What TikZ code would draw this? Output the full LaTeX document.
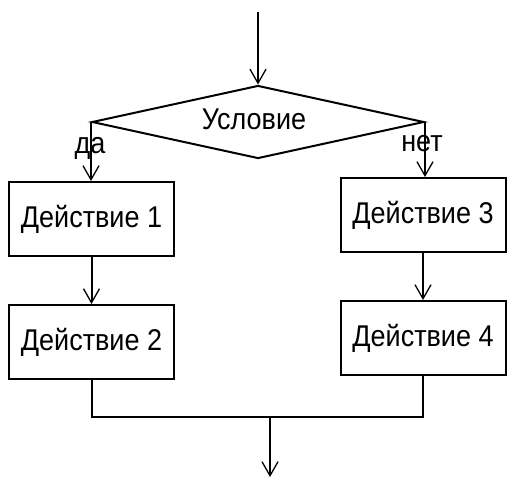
\documentclass[tikz,border=0pt]{standalone}
\usepackage{fontspec}
\setmainfont{Liberation Sans}[FakeStretch=0.9]
\usetikzlibrary{shapes.geometric,arrows.meta}
\tikzset{
    act/.style={draw, line width=2pt, minimum width=165pt, minimum height=74pt, inner sep=0pt},
    cond/.style={draw, diamond, aspect=4.5, line width=2pt, minimum width=332pt, minimum height=73pt, inner sep=0pt},
    arr/.style={line width=2pt, -{Straight Barb[length=14pt,width=16pt,line width=1.3pt]}},
    lnk/.style={line width=2pt}
}
\begin{document}
\begin{tikzpicture}[x=1pt,y=-1pt,font=\fontsize{30}{32}\selectfont]
    \useasboundingbox (0,0) rectangle (507,477);

    \coordinate (start) at (258,12);
    \coordinate (join)  at (270,417);
    \coordinate (stop)  at (270,477);

    \node[cond] (cnd)  at (258,122) {};
    \node (cndtxt) at (254,119) {Условие};

    \node[act]  (act1) at (91.5,219) {Действие 1};
    \node[act]  (act2) at (91.5,342) {Действие 2};
    \node[act]  (act3) at (423,215)  {Действие 3};
    \node[act]  (act4) at (423,338)  {Действие 4};

    % Entry
    \draw[arr] (start) -- (cnd.north);

    % Branches
    \draw[arr] (cnd.west) -- node[pos=0.45,xshift=-1pt]{да}  (cnd.west |- act1.north);
    \draw[arr] (cnd.east) -- node[pos=0.4,xshift=-3pt]{нет} (cnd.east |- act3.north);

    \draw[arr] (act1) -- (act2);
    \draw[arr] (act3) -- (act4);

    % Merge
    \draw[lnk] (act2.south) |- (join) -| (act4.south);
    \draw[arr] (join) -- (stop);
\end{tikzpicture}
\end{document}
